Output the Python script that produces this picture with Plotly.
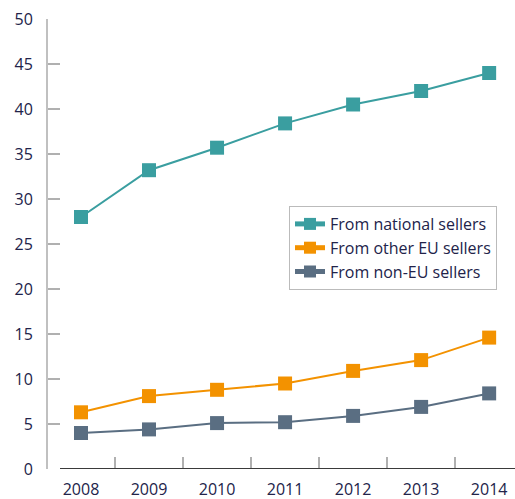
import plotly.graph_objects as go

years = ["2008", "2009", "2010", "2011", "2012", "2013", "2014"]
national = [28.0, 33.2, 35.7, 38.4, 40.5, 42.0, 44.0]
other_eu = [6.3, 8.1, 8.8, 9.5, 10.9, 12.1, 14.6]
non_eu = [4.0, 4.4, 5.1, 5.2, 5.9, 6.9, 8.4]
names = ["From national sellers", "From other EU sellers", "From non-EU sellers"]
colors = ["#3a9ea0", "#f39200", "#5a6e82"]
y_ticks = list(range(0, 51, 5))

xpos = list(range(len(years)))
fig = go.Figure()
for name, vals, col in zip(names, [national, other_eu, non_eu], colors):
    fig.add_trace(go.Scatter(
        x=xpos, y=vals, name=name, mode="lines+markers",
        line=dict(color=col, width=2),
        marker=dict(symbol="square", size=14, color=col),
    ))

font = dict(family="Open Sans, Noto Sans, sans-serif", size=16, color="#22234a")
W, L, T, B = 515, 48, 19, 30
pw = W - L
ph = 499 - T - B
fig.update_layout(
    width=W, height=499,
    margin=dict(l=L, r=0, t=T, b=B, autoexpand=False),
    plot_bgcolor="white", paper_bgcolor="white",
    font=font,
    showlegend=True,
    legend=dict(
        x=(289 - L) / pw, y=(469 - 206) / ph, xanchor="left", yanchor="top",
        bordercolor="#bbbbbb", borderwidth=1, bgcolor="white",
        font=font, tracegroupgap=0, itemsizing="constant",
    ),
    xaxis=dict(
        range=[-0.485, 6.38], tickvals=xpos, ticktext=years,
        showgrid=False, zeroline=False, ticks="", showline=False,
        automargin=False, ticklabelstandoff=9,
        minor=dict(tickvals=[i + 0.5 for i in range(6)], ticks="inside",
                   ticklen=12, tickcolor="#b0b0b0", tickwidth=1.5, showgrid=False),
    ),
    yaxis=dict(
        range=[0, 50], tickvals=y_ticks, showgrid=False, zeroline=False,
        showline=True, linecolor="#c0c0c0", linewidth=2,
        ticks="inside", ticklen=12, tickcolor="#b0b0b0", tickwidth=1.5,
        ticklabelstandoff=10, automargin=False,
    ),
    shapes=[dict(type="line", xref="paper", yref="y",
                 x0=12 / pw, x1=1, y0=0, y1=0,
                 line=dict(color="#3a3a3a", width=2))],
)
fig.write_html("out.html", config={"displayModeBar": False},
               post_script="document.body.style.margin='0';")
